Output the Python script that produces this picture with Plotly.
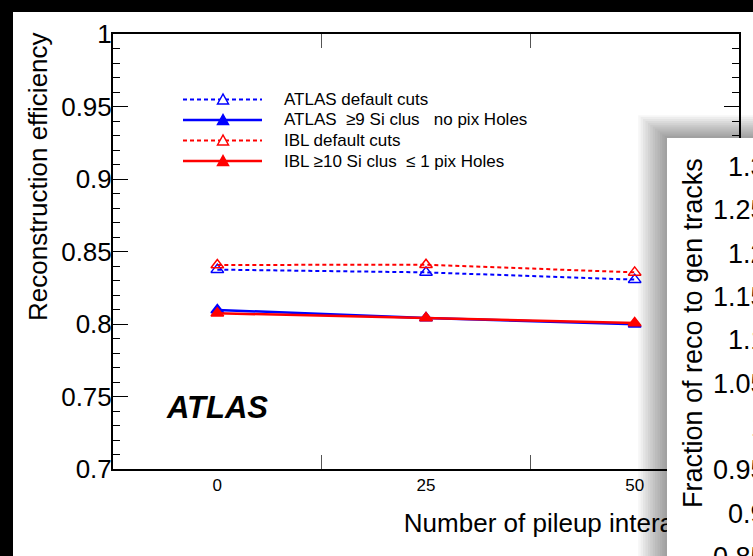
import plotly.graph_objects as go

# ---------------- data ----------------
pileup = [0, 25, 50]
atlas_default = [0.8375, 0.8356, 0.8306]
atlas_si9 = [0.8097, 0.8041, 0.7998]
ibl_default = [0.8407, 0.8409, 0.8356]
ibl_si10 = [0.8074, 0.8041, 0.8007]

series_names = [
    "ATLAS default cuts",
    "ATLAS\u00a0 \u22659 Si clus\u00a0\u00a0 no pix Holes",
    "IBL default cuts",
    "IBL \u226510 Si clus\u00a0 \u2264 1 pix Holes",
]

y_ticks = [0.7, 0.75, 0.8, 0.85, 0.9, 0.95, 1.0]
y_ticklabels = ["0.7", "0.75", "0.8", "0.85", "0.9", "0.95", "1"]
x_ticklabels = ["0", "25", "50"]
bin_edges = [12.5, 37.5]

ratio_ticks = [1.3, 1.25, 1.2, 1.15, 1.1, 1.05, 1.0, 0.95, 0.9, 0.85]
ratio_ticklabels = ["1.3", "1.25", "1.2", "1.15", "1.1", "1.05", "1", "0.95", "0.9", "0.85"]

# ---------------- geometry helpers ----------------
W, H = 753, 556
ML, MR, MT, MB = 113, 14, 34, 0          # plot area reaches the bottom edge
AXIS_BOTTOM = 469                         # pixel row of the efficiency x axis
FONT = "Liberation Sans, Arial, Helvetica, sans-serif"
PW, PH = W - ML - MR, H - MT - MB


def px(xp):
    return (xp - ML) / PW


def py(yp):
    return (H - MB - yp) / PH


BLUE = "#0000ff"
RED = "#ff0000"

styles = [
    dict(color=BLUE, dash="4px,3px", width=2, symbol="triangle-up-open"),
    dict(color=BLUE, dash="solid", width=2.5, symbol="triangle-up"),
    dict(color=RED, dash="4px,3px", width=2, symbol="triangle-up-open"),
    dict(color=RED, dash="solid", width=2.5, symbol="triangle-up"),
]
values = [atlas_default, atlas_si9, ibl_default, ibl_si10]

fig = go.Figure()
for name, vals, st in zip(series_names, values, styles):
    fig.add_trace(go.Scatter(
        x=pileup, y=vals, name=name, mode="lines+markers",
        line=dict(color=st["color"], width=st["width"], dash=st["dash"]),
        marker=dict(symbol=st["symbol"], size=11, color=st["color"],
                    line=dict(color=st["color"], width=1.5)),
        showlegend=False, cliponaxis=False, hoverinfo="x+y+name",
    ))

# x-axis title, right-aligned at the end of the axis (pixel-space overlay axes)
fig.add_trace(go.Scatter(
    x=[742], y=[525], mode="text", xaxis="x2", yaxis="y2",
    text=["Number of pileup interactions"], textposition="middle left",
    textfont=dict(size=26, color="black", family=FONT),
    showlegend=False, hoverinfo="skip",
))

shapes = []
annotations = []

# ---------------- legend ----------------
legend_rows = [99.5, 120, 140.5, 161]
for name, st, yr in zip(series_names, styles, legend_rows):
    shapes.append(dict(
        type="line", xref="paper", yref="paper",
        x0=px(183), x1=px(262), y0=py(yr), y1=py(yr),
        line=dict(color=st["color"], width=st["width"], dash=st["dash"]),
        layer="above",
    ))
    cx, hw = 223, 5.5
    path = "M{},{} L{},{} L{},{} Z".format(
        px(cx), py(yr - 5.5), px(cx - hw), py(yr + 4.5), px(cx + hw), py(yr + 4.5))
    filled = st["dash"] == "solid"
    shapes.append(dict(
        type="path", xref="paper", yref="paper", path=path,
        fillcolor=st["color"] if filled else "white",
        line=dict(color=st["color"], width=1.5), layer="above",
    ))
    annotations.append(dict(
        text=name, xref="paper", yref="paper", x=px(282), y=py(yr),
        xanchor="left", yanchor="middle", showarrow=False,
        font=dict(size=17, color="black", family=FONT),
    ))

# ATLAS label
annotations.append(dict(
    text="<b><i>ATLAS</i></b>", xref="paper", yref="paper",
    x=px(164), y=py(407), xanchor="left", yanchor="middle", showarrow=False,
    font=dict(size=31, color="black", family=FONT),
))

# y-axis title
annotations.append(dict(
    text="Reconstruction efficiency", xref="paper", yref="paper",
    x=px(38), y=py(177), xanchor="center", yanchor="middle", textangle=-90,
    showarrow=False, font=dict(size=26, color="black", family=FONT),
))

# ---------------- overlapping ratio panel ----------------
panel_x, panel_y = 667, 138
for i in range(1, 13):
    shapes.append(dict(
        type="rect", xref="paper", yref="paper",
        x0=px(panel_x - 2.4 * i), x1=px(800),
        y0=py(panel_y - 1.9 * i), y1=py(600),
        fillcolor="rgba(0,0,0,0.036)", line=dict(width=0), layer="above",
    ))
shapes.append(dict(
    type="rect", xref="paper", yref="paper",
    x0=px(panel_x), x1=px(800), y0=py(panel_y), y1=py(600),
    fillcolor="white", line=dict(width=0), layer="above",
))

annotations.append(dict(
    text="Fraction of reco to gen tracks", xref="paper", yref="paper",
    x=px(693), y=py(333), xanchor="center", yanchor="middle", textangle=-90,
    showarrow=False, font=dict(size=27, color="black", family=FONT),
))


def ratio_to_px(v):
    return 167 + (1.3 - v) * 866.7


for v, lab in zip(ratio_ticks, ratio_ticklabels):
    annotations.append(dict(
        text=lab, xref="paper", yref="paper", x=px(768), y=py(ratio_to_px(v)),
        xanchor="right", yanchor="middle", showarrow=False,
        font=dict(size=27, color="black", family=FONT),
    ))

# dark screen borders
shapes.append(dict(type="rect", xref="paper", yref="paper",
                   x0=px(-5), x1=px(760), y0=py(-5), y1=py(12),
                   fillcolor="black", line=dict(width=0), layer="above"))
shapes.append(dict(type="rect", xref="paper", yref="paper",
                   x0=px(-5), x1=px(13), y0=py(-5), y1=py(600),
                   fillcolor="black", line=dict(width=0), layer="above"))

fig.update_layout(
    width=W, height=H,
    margin=dict(l=ML, r=MR, t=MT, b=MB, pad=0, autoexpand=False),
    paper_bgcolor="white", plot_bgcolor="rgba(0,0,0,0)",
    font=dict(family=FONT, color="black"),
    showlegend=False,
    shapes=shapes, annotations=annotations,
    xaxis=dict(
        range=[-12.5, 62.5], showline=True, linewidth=2, linecolor="black",
        mirror="allticks", tickmode="array", tickvals=pileup, ticktext=x_ticklabels,
        ticks="inside", ticklen=0, tickfont=dict(size=17, family=FONT, color="black"),
        minor=dict(tickmode="array", tickvals=bin_edges, ticks="inside", ticklen=14,
                   tickwidth=1, tickcolor="#555555"),
        showgrid=False, zeroline=False, fixedrange=True, anchor="y",
    ),
    yaxis=dict(
        domain=[py(AXIS_BOTTOM), 1],
        range=[0.7, 1.0], showline=True, linewidth=2, linecolor="black",
        mirror="allticks", tickmode="array", tickvals=y_ticks, ticktext=y_ticklabels,
        ticks="inside", ticklen=15, tickwidth=1, tickcolor="black",
        minor=dict(tick0=0.7, dtick=0.01, ticks="inside", ticklen=7, tickwidth=1,
                   tickcolor="black"),
        tickfont=dict(size=26, family=FONT, color="black"),
        ticklabelstandoff=-6,
        showgrid=False, zeroline=False, fixedrange=True, anchor="x",
    ),
    # pixel-space helper axes spanning the whole plotting region
    xaxis2=dict(domain=[0, 1], range=[ML, W - MR], visible=False,
                fixedrange=True, anchor="y2"),
    yaxis2=dict(domain=[0, 1], range=[H - MB, MT], visible=False,
                fixedrange=True, anchor="x2"),
)

fig.write_html("out.html")
